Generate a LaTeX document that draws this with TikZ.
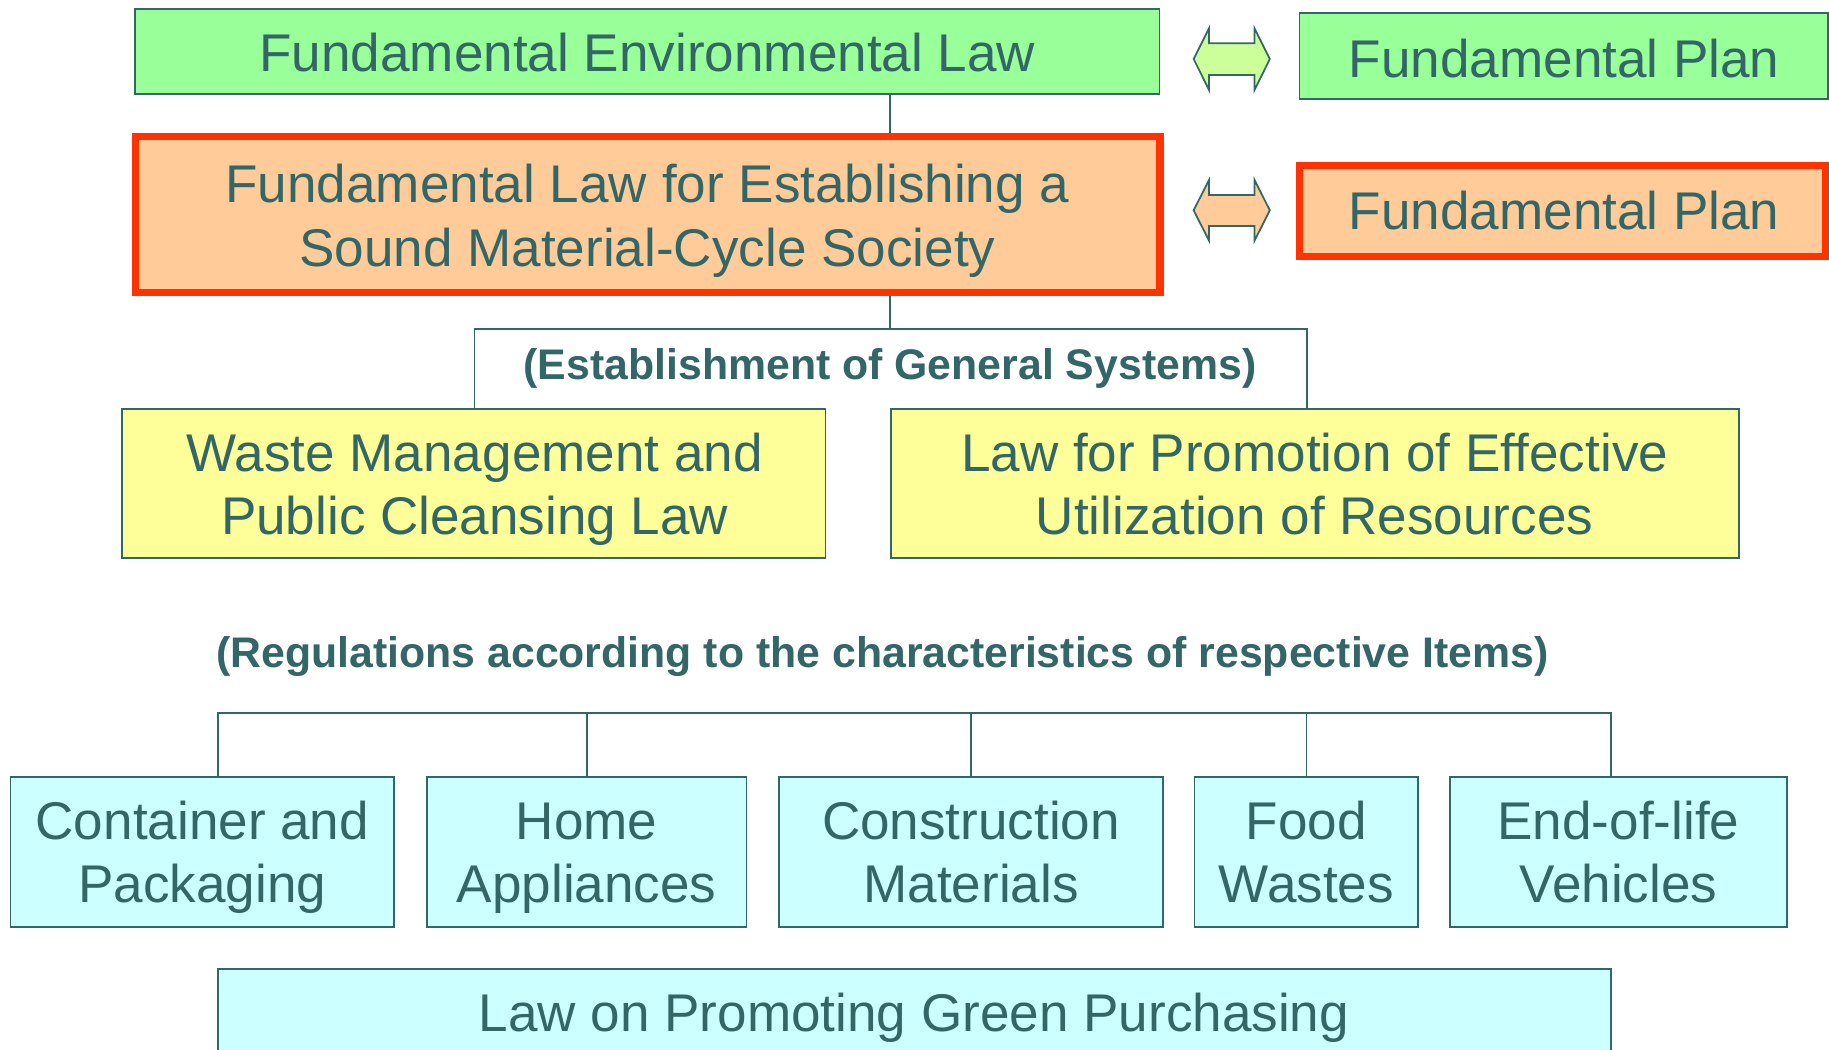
\documentclass[tikz,border=0pt]{standalone}
\usepackage{fontspec}
\setmainfont{Liberation Sans}
\definecolor{tealc}{HTML}{336666}
\definecolor{greenf}{HTML}{99FF99}
\definecolor{arrowg}{HTML}{CCFF99}
\definecolor{orangef}{HTML}{FFCC99}
\definecolor{redb}{HTML}{FF3300}
\definecolor{yellowf}{HTML}{FFFF99}
\definecolor{cyanf}{HTML}{CCFFFF}
\begin{document}
\begin{tikzpicture}[x=1pt,y=-1pt,
  box/.style={draw=tealc, line width=1.6pt, rectangle, inner sep=0pt},
  redbox/.style={draw=redb, line width=6.2pt, rectangle, inner sep=0pt, fill=orangef},
  txt/.style={anchor=base, inner sep=0pt, text=tealc, font=\fontsize{45.5}{54.5}\selectfont},
  btxt/.style={anchor=base, inner sep=0pt, text=tealc, font=\bfseries\fontsize{36.7}{44}\selectfont},
  conn/.style={draw=tealc, line width=1.5pt},
  darrow/.style={draw=tealc, line width=1.5pt, line join=miter}]
\useasboundingbox (0,0) rectangle (1568,900);
\fill[white] (0,0) rectangle (1568,900);
\clip (0,0) rectangle (1568,900);

% top row
\node[box, fill=greenf, minimum width=878pt, minimum height=72.5pt] (envlaw) at (555,44.25) {};
\node[txt] (envlaw-t) at (555,60.9) {Fundamental Environmental Law};
\node[box, fill=greenf, minimum width=453pt, minimum height=73.5pt] (plan1) at (1340.5,48.25) {};
\node[txt] (plan1-t) at (1341,66.3) {Fundamental Plan};

% second row
\node[redbox, minimum width=878.5pt, minimum height=133.4pt] (sms) at (555.25,184) {};
\node[txt] (sms-t1) at (555,173.4) {Fundamental Law for Establishing a};
\node[txt] (sms-t2) at (555,228.6) {Sound Material-Cycle Society};
\node[redbox, minimum width=450.6pt, minimum height=77.9pt] (plan2) at (1339.5,180.75) {};
\node[txt] (plan2-t) at (1341,197.1) {Fundamental Plan};

% double arrows
\draw[darrow, fill=arrowg] (1023.3,50.6) -- (1036.5,24.3) -- (1036.5,37.1) -- (1075.5,37.1) -- (1075.5,24.3) -- (1088.6,50.6) -- (1075.5,77.1) -- (1075.5,64.3) -- (1036.5,64.3) -- (1036.5,77.1) -- cycle;
\draw[darrow, fill=orangef] (1023.3,180.3) -- (1036.5,154.3) -- (1036.5,167.1) -- (1075.5,167.1) -- (1075.5,154.3) -- (1088.6,180.3) -- (1075.5,206.3) -- (1075.5,193.7) -- (1036.5,193.7) -- (1036.5,206.3) -- cycle;

% general systems
\node[btxt] (gen-t) at (763,325.7) {(Establishment of General Systems)};
\node[box, fill=yellowf, minimum width=603.1pt, minimum height=128.4pt] (waste) at (406.15,414.5) {};
\node[txt] (waste-t1) at (407,404.3) {Waste Management and};
\node[txt] (waste-t2) at (407,458.6) {Public Cleansing Law};
\node[box, fill=yellowf, minimum width=727pt, minimum height=128.4pt] (promo) at (1127,414.5) {};
\node[txt] (promo-t1) at (1127,404.3) {Law for Promotion of Effective};
\node[txt] (promo-t2) at (1127,458.6) {Utilization of Resources};

% connectors top
\coordinate (trunk) at (763.3,0);
\coordinate (bl) at (406.8,282);
\coordinate (br) at (1120.6,282);
\draw[conn] (trunk |- envlaw.south) -- (trunk |- sms.north);
\draw[conn] (trunk |- sms.south) -- (trunk |- bl);
\draw[conn] (bl |- waste.north) -- (bl) -- (br) -- (br |- promo.north);

% regulations
\node[btxt] (reg-t) at (756.5,572) {(Regulations according to the characteristics of respective Items)};

\node[box, fill=cyanf, minimum width=329pt, minimum height=128.6pt] (cont) at (173.5,730.1) {};
\node[txt] (cont-t1) at (173.5,719.5) {Container and};
\node[txt] (cont-t2) at (173.5,773.8) {Packaging};
\node[box, fill=cyanf, minimum width=274pt, minimum height=128.6pt] (home) at (503,730.1) {};
\node[txt] (home-t1) at (503,719.5) {Home};
\node[txt] (home-t2) at (503,773.8) {Appliances};
\node[box, fill=cyanf, minimum width=329pt, minimum height=128.6pt] (constr) at (832.5,730.1) {};
\node[txt] (constr-t1) at (832.5,719.5) {Construction};
\node[txt] (constr-t2) at (832.5,773.8) {Materials};
\node[box, fill=cyanf, minimum width=192pt, minimum height=128.6pt] (food) at (1120,730.1) {};
\node[txt] (food-t1) at (1120,719.5) {Food};
\node[txt] (food-t2) at (1120,773.8) {Wastes};
\node[box, fill=cyanf, minimum width=289pt, minimum height=128.6pt] (elv) at (1387.5,730.1) {};
\node[txt] (elv-t1) at (1387.5,719.5) {End-of-life};
\node[txt] (elv-t2) at (1387.5,773.8) {Vehicles};

\coordinate (r1) at (187,611);
\coordinate (r5) at (1381,611);
\draw[conn] (r1 |- cont.north) -- (r1) -- (r5) -- (r5 |- elv.north);
\draw[conn] (home.north) -- (home.north |- r1);
\draw[conn] (constr.north) -- (constr.north |- r1);
\draw[conn] (food.north) -- (food.north |- r1);

\node[box, fill=cyanf, minimum width=1194pt, minimum height=128.6pt] (green) at (784,894.7) {};
\node[txt] (green-t) at (783.5,884.4) {Law on Promoting Green Purchasing};
\end{tikzpicture}
\end{document}
